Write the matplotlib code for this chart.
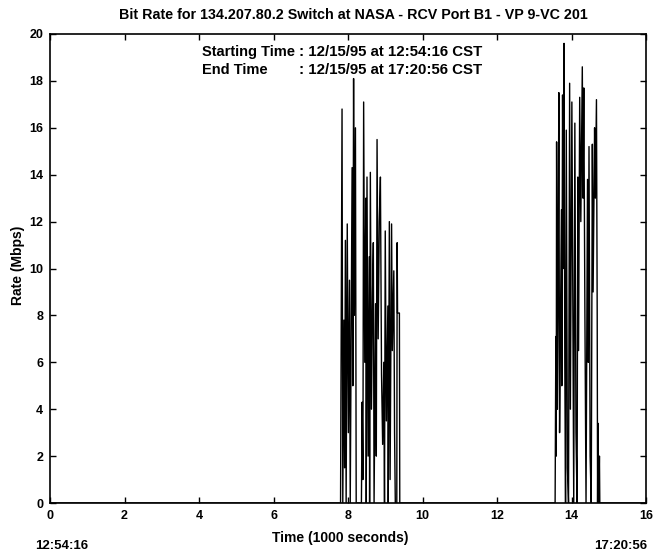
import numpy as np
import matplotlib
matplotlib.use("Agg")
import matplotlib.pyplot as plt

title = "Bit Rate for 134.207.80.2 Switch at NASA - RCV Port B1 - VP 9-VC 201"
start_label = "Starting Time"
end_label = "End Time"
start_value = ": 12/15/95 at 12:54:16 CST"
end_value = ": 12/15/95 at 17:20:56 CST"
x_label = "Time (1000 seconds)"
y_label = "Rate (Mbps)"
left_time = "12:54:16"
right_time = "17:20:56"

x_ticks = [0, 2, 4, 6, 8, 10, 12, 14, 16]
y_ticks = [0, 2, 4, 6, 8, 10, 12, 14, 16, 18, 20]

# Burst 1 (time in 1000 s, rate in Mbps)
burst1_time = [7.80, 7.84, 7.86, 7.89, 7.91, 7.93, 7.95, 7.98, 8.01, 8.04, 8.06,
               8.11, 8.13, 8.15, 8.17, 8.20, 8.22, 8.36, 8.38, 8.40, 8.42, 8.45,
               8.48, 8.49, 8.51, 8.54, 8.57, 8.58, 8.60, 8.63, 8.66, 8.68, 8.70,
               8.74, 8.76, 8.78, 8.81, 8.84, 8.87, 8.90, 8.93, 8.96, 8.98, 9.00,
               9.03, 9.07, 9.08, 9.11, 9.13, 9.17, 9.19, 9.23, 9.25, 9.27, 9.31,
               9.32, 9.33, 9.38, 9.39]
burst1_rate = [0, 16.8, 0, 7.8, 1.5, 11.2, 0, 11.9, 3.0, 9.5, 0,
               14.3, 5.0, 18.1, 8.0, 16.0, 0, 0, 4.3, 1.0, 17.1, 6.0,
               13.0, 0, 13.9, 2.0, 10.5, 0, 14.1, 4.0, 9.0, 11.1, 0,
               8.5, 2.0, 15.5, 7.0, 12.0, 13.9, 5.5, 2.5, 6.0, 0, 11.6,
               3.5, 8.4, 0, 12.0, 1.0, 11.9, 6.5, 9.9, 3.0, 0, 0,
               11.1, 8.1, 8.1, 0]

# Burst 2
burst2_time = [13.56, 13.58, 13.59, 13.60, 13.62, 13.64, 13.66, 13.68, 13.70,
               13.73, 13.74, 13.76, 13.78, 13.80, 13.82, 13.84, 13.86, 13.89,
               13.92, 13.95, 13.97, 14.01, 14.03, 14.06, 14.09, 14.12, 14.15,
               14.17, 14.19, 14.22, 14.25, 14.29, 14.31, 14.33, 14.36, 14.39,
               14.43, 14.45, 14.47, 14.50, 14.53, 14.56, 14.58, 14.62, 14.64,
               14.67, 14.69, 14.70, 14.71, 14.73, 14.75, 14.76]
burst2_rate = [0, 7.1, 2.0, 15.4, 4.0, 9.0, 17.5, 3.0, 7.0,
               12.5, 5.0, 17.4, 10.0, 19.6, 6.0, 0, 15.9, 1.5,
               0, 17.9, 4.0, 17.1, 10.5, 0, 16.2, 3.0, 0,
               13.9, 6.5, 17.3, 12.0, 18.6, 13.0, 17.7, 8.0, 0,
               13.8, 6.0, 15.2, 2.0, 0, 15.3, 9.0, 16.0, 13.0,
               17.2, 8.0, 0, 3.4, 0, 2.0, 0]

t = [0.0] + burst1_time + burst2_time + [16.0]
r = [0.0] + burst1_rate + burst2_rate + [0.0]

plt.rcParams['font.family'] = ['Liberation Sans', 'DejaVu Sans']
plt.rcParams['font.weight'] = 'bold'

fig = plt.figure(figsize=(6.62, 5.57), dpi=100)
ax = fig.add_axes([50/662, 1-503/557, 596/662, 469/557])
ax.plot(t, r, color='black', lw=1.0)
ax.set_xlim(0, 16)
ax.set_ylim(0, 20)
ax.set_xticks(x_ticks)
ax.set_yticks(y_ticks)
ax.set_xticklabels([str(v) for v in x_ticks], fontsize=9, fontweight='bold')
ax.set_yticklabels([str(v) for v in y_ticks], fontsize=9, fontweight='bold')
ax.tick_params(direction='in', top=True, right=True, length=4, width=1, pad=5)
for s in ax.spines.values():
    s.set_linewidth(1.2)

fig.text(353/662, 1-15/557, title, ha='center', va='center', fontsize=10.3, fontweight='bold')
fig.text(202/662, 1-52/557, start_label, ha='left', va='center', fontsize=10.5, fontweight='bold')
fig.text(299/662, 1-52/557, start_value, ha='left', va='center', fontsize=10.8, fontweight='bold')
fig.text(202/662, 1-70/557, end_label, ha='left', va='center', fontsize=10.5, fontweight='bold')
fig.text(299/662, 1-70/557, end_value, ha='left', va='center', fontsize=10.8, fontweight='bold')

fig.text(340/662, 1-538/557, x_label, ha='center', va='center', fontsize=10, fontweight='bold')
fig.text(18/662, 1-265/557, y_label, ha='center', va='center', rotation=90, fontsize=10, fontweight='bold')
fig.text(62/662, 1-546/557, left_time, ha='center', va='center', fontsize=9.5, fontweight='bold')
fig.text(621/662, 1-546/557, right_time, ha='center', va='center', fontsize=9.5, fontweight='bold')

fig.savefig("out.png", dpi=100)
